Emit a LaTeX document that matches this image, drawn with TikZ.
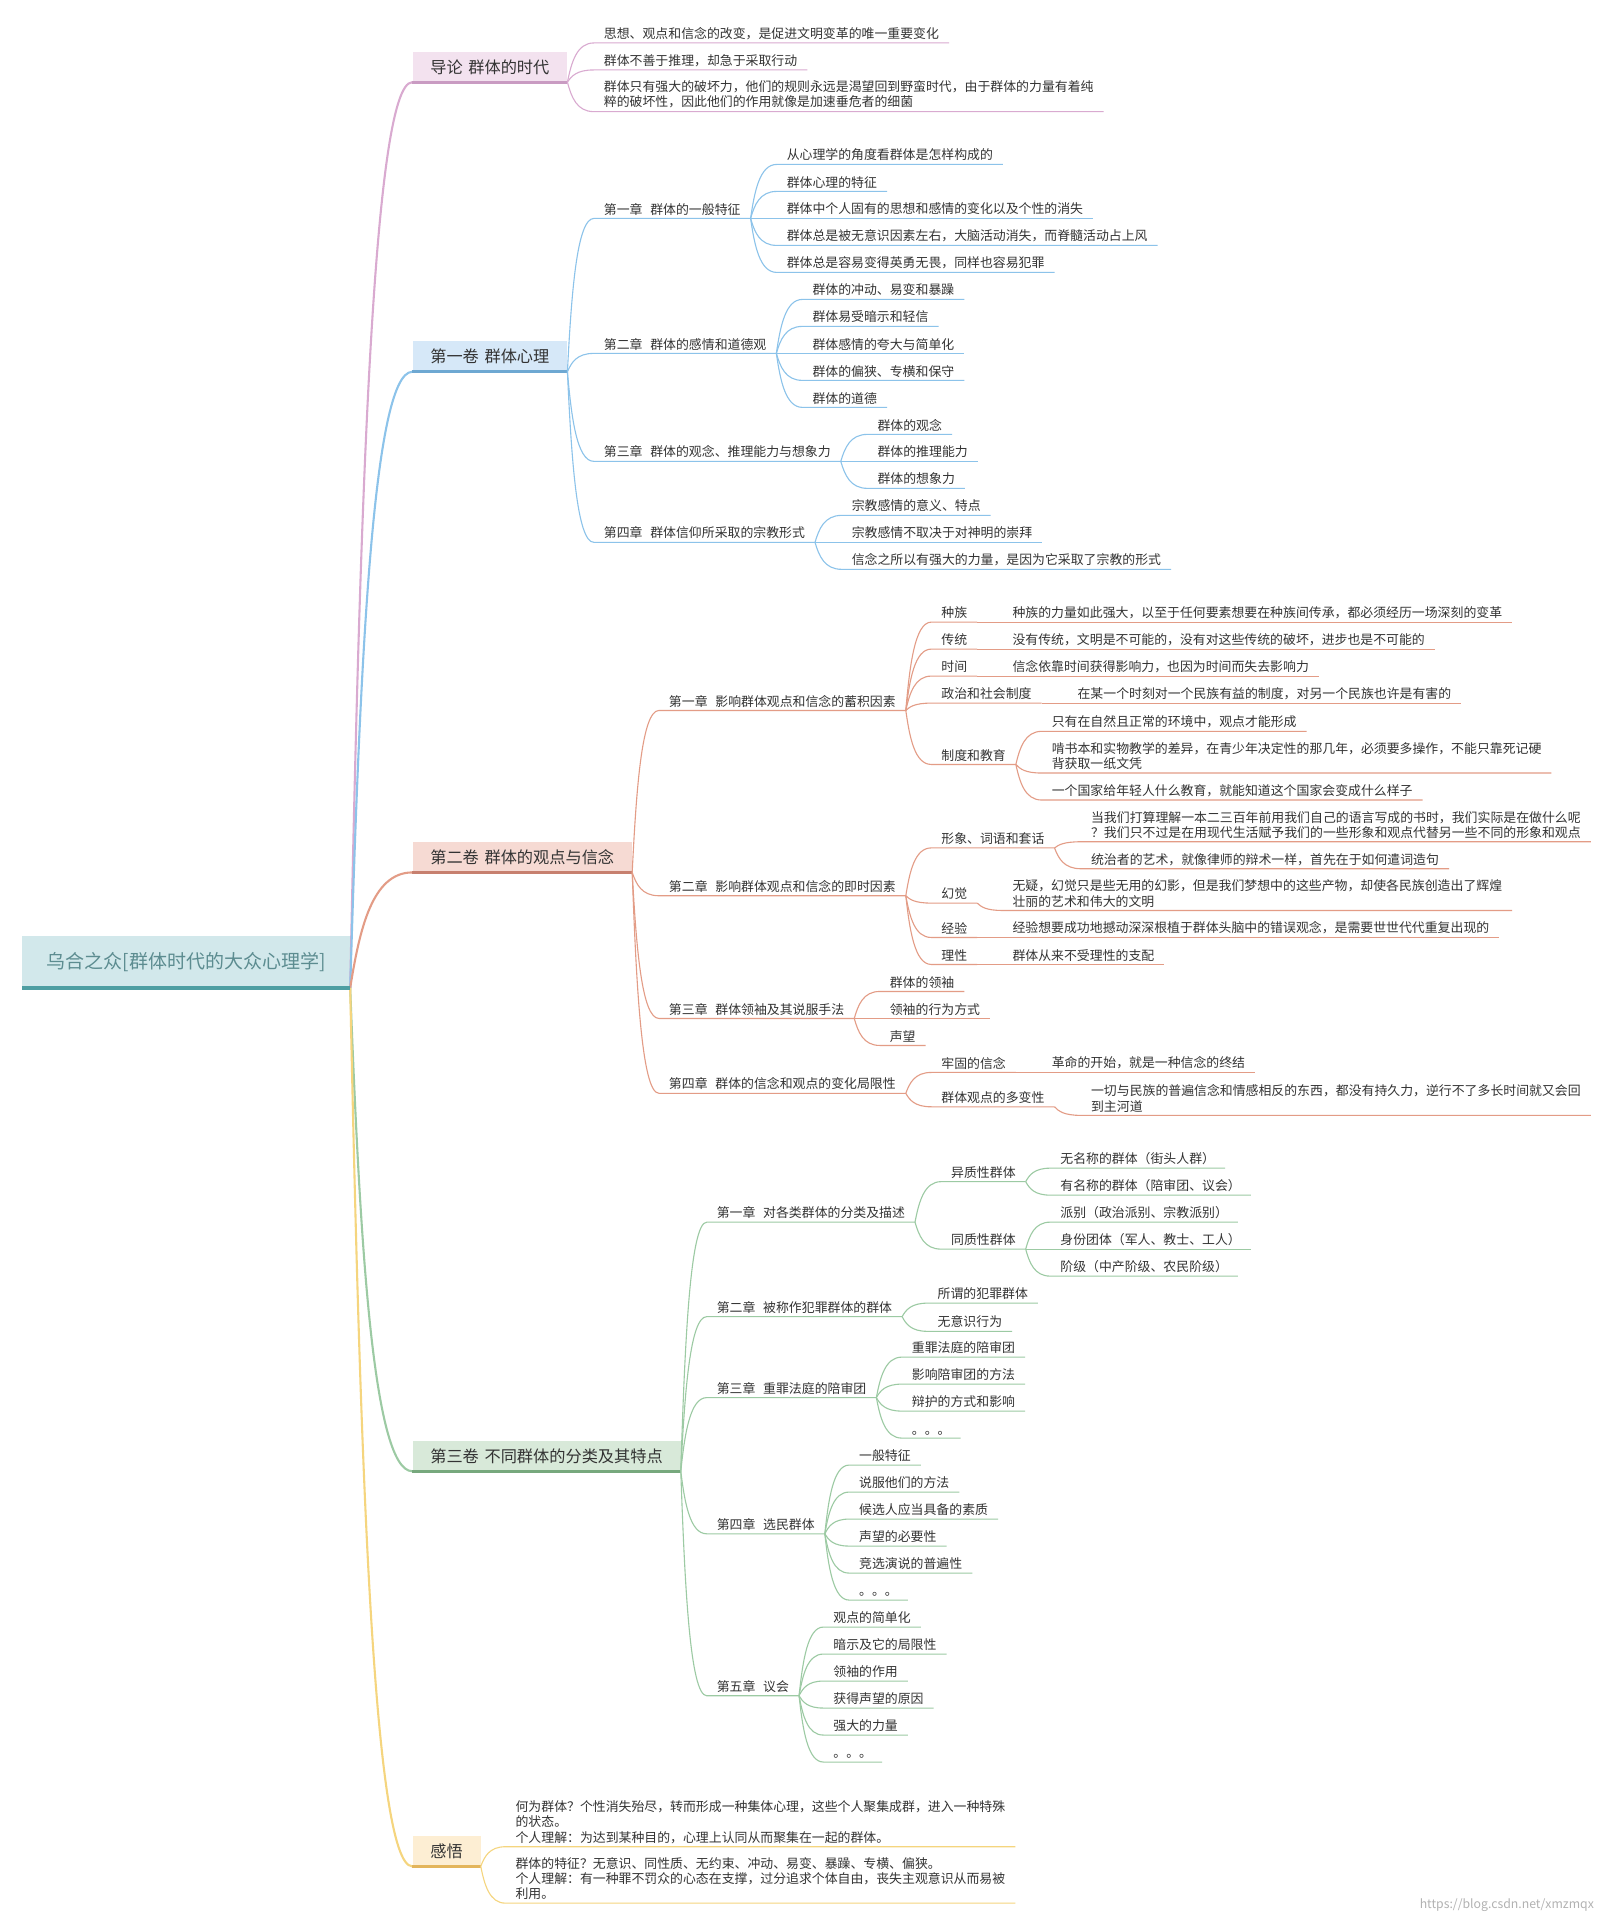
\documentclass[tikz,border=0pt]{standalone}
\usepackage{fontspec}
\usetikzlibrary{calc}

\newfontfamily\cjk{Noto Sans CJK SC}
\newcommand{\leaffont}{\cjk\fontsize{10.5}{12.3}\selectfont}
\newcommand{\volfont}{\cjk\fontsize{13.2}{15}\selectfont}
\newcommand{\rootfont}{\cjk\fontsize{15.5}{18}\selectfont}
\newcommand{\gap}{\hspace{0.6em}}
\newcommand{\vgap}{\hspace{0.35em}}

\definecolor{textgray}{HTML}{333333}
\definecolor{rootfill}{HTML}{D2E8EB}
\definecolor{rootbar}{HTML}{4E9EA2}
\definecolor{roottext}{HTML}{5C8C90}
\definecolor{pinkline}{HTML}{D9AAD0}
\definecolor{pinkfill}{HTML}{F3E2EF}
\definecolor{pinkbar}{HTML}{C99BC2}
\definecolor{blueline}{HTML}{8CC3EA}
\definecolor{bluefill}{HTML}{D6E8F8}
\definecolor{bluebar}{HTML}{6EA8D2}
\definecolor{redline}{HTML}{E39C86}
\definecolor{redfill}{HTML}{F6DAD3}
\definecolor{redbar}{HTML}{C7806F}
\definecolor{greenline}{HTML}{9CCAA3}
\definecolor{greenfill}{HTML}{D8E9D9}
\definecolor{greenbar}{HTML}{77A87D}
\definecolor{yellowline}{HTML}{F5D57E}
\definecolor{yellowfill}{HTML}{FDEED3}
\definecolor{yellowbar}{HTML}{E3B55B}

\tikzset{
    curvy/.style={to path={let \p1=(\tikztostart), \p2=(\tikztotarget) in
        .. controls ({0.85*\x1+0.15*\x2},{0.5*\y1+0.5*\y2})
        and ({0.65*\x1+0.35*\x2},\y2) .. (\tikztotarget) \tikztonodes}},
    topic/.style={anchor=south west, inner xsep=8pt, inner ysep=2.5pt,
        font=\leaffont, text=textgray, align=left},
    volume/.style={anchor=south west, minimum height=24.5pt, inner xsep=14.5pt,
        inner ysep=0pt, font=\volfont, text=textgray},
    twig/.style={line width=0.9pt},
    limb/.style={line width=1.7pt},
}

\begin{document}
\begin{tikzpicture}[x=1pt, y=-1pt]
    \useasboundingbox[fill=white] (0,0) rectangle (1317,1568);

    \node[anchor=south west, minimum width=267pt, minimum height=42pt, inner sep=0pt,
        fill=rootfill, font=\rootfont, text=roottext] (root) at (18,805)
        {乌合之众[群体时代的大众心理学]};

    % volume boxes
    \node[volume, fill=pinkfill] (intro) at (336,67) {导论\vgap{}群体的时代};
    \node[volume, fill=bluefill] (vol1) at (336,303) {第一卷\vgap{}群体心理};
    \node[volume, fill=redfill] (vol2) at (336,711) {第二卷\vgap{}群体的观点与信念};
    \node[volume, fill=greenfill] (vol3) at (336,1199) {第三卷\vgap{}不同群体的分类及其特点};
    \node[volume, fill=yellowfill] (notes) at (336,1521) {感悟};

    \foreach \v/\c in {intro/pinkline, vol1/blueline, vol2/redline, vol3/greenline, notes/yellowline}
        \draw[limb, \c] (root.south east) to[curvy] (\v.south west);

    \draw[rootbar, line width=3pt] (root.south west) -- (root.south east);
    \foreach \v/\c in {intro/pinkbar, vol1/bluebar, vol2/redbar, vol3/greenbar, notes/yellowbar}
        \draw[\c, line width=2.4pt] (\v.south west) -- (\v.south east);

    % introduction
    \node[topic] (in1) at (484,35) {思想、观点和信念的改变，是促进文明变革的唯一重要变化};
    \node[topic] (in2) at (484,57) {群体不善于推理，却急于采取行动};
    \node[topic] (in3) at (484,91) {群体只有强大的破坏力，他们的规则永远是渴望回到野蛮时代，由于群体的力量有着纯\\粹的破坏性，因此他们的作用就像是加速垂危者的细菌};
    \foreach \k in {in1,in2,in3}
        \draw[twig, pinkline] (intro.south east) to[curvy] (\k.south west) -- (\k.south east);

    % volume 1
    \node[topic] (v1c1) at (484,178) {第一章\gap{}群体的一般特征};
    \node[topic] (v1c2) at (484,288) {第二章\gap{}群体的感情和道德观};
    \node[topic] (v1c3) at (484,376) {第三章\gap{}群体的观念、推理能力与想象力};
    \node[topic] (v1c4) at (484,442) {第四章\gap{}群体信仰所采取的宗教形式};

    \node[topic] (v1c1a) at (633,134) {从心理学的角度看群体是怎样构成的};
    \node[topic] (v1c1b) at (633,156) {群体心理的特征};
    \node[topic] (v1c1c) at (633,178) {群体中个人固有的思想和感情的变化以及个性的消失};
    \node[topic] (v1c1d) at (633,200) {群体总是被无意识因素左右，大脑活动消失，而脊髓活动占上风};
    \node[topic] (v1c1e) at (633,222) {群体总是容易变得英勇无畏，同样也容易犯罪};

    \node[topic] (v1c2a) at (654,244) {群体的冲动、易变和暴躁};
    \node[topic] (v1c2b) at (654,266) {群体易受暗示和轻信};
    \node[topic] (v1c2c) at (654,288) {群体感情的夸大与简单化};
    \node[topic] (v1c2d) at (654,310) {群体的偏狭、专横和保守};
    \node[topic] (v1c2e) at (654,332) {群体的道德};

    \node[topic] (v1c3a) at (707,354) {群体的观念};
    \node[topic] (v1c3b) at (707,376) {群体的推理能力};
    \node[topic] (v1c3c) at (707,398) {群体的想象力};

    \node[topic] (v1c4a) at (686,420) {宗教感情的意义、特点};
    \node[topic] (v1c4b) at (686,442) {宗教感情不取决于对神明的崇拜};
    \node[topic] (v1c4c) at (686,464) {信念之所以有强大的力量，是因为它采取了宗教的形式};

    \foreach \k in {v1c1,v1c2,v1c3,v1c4}
        \draw[twig, blueline] (vol1.south east) to[curvy] (\k.south west) -- (\k.south east);
    \foreach \c/\last in {v1c1/e, v1c2/e, v1c3/c, v1c4/c}
        \foreach \k in {a,...,\last}
            \draw[twig, blueline] (\c.south east) to[curvy] (\c\k.south west) -- (\c\k.south east);

    % volume 2
    \node[topic] (v2c1) at (537,579) {第一章\gap{}影响群体观点和信念的蓄积因素};
    \node[topic] (v2c2) at (537,730) {第二章\gap{}影响群体观点和信念的即时因素};
    \node[topic] (v2c3) at (537,830) {第三章\gap{}群体领袖及其说服手法};
    \node[topic] (v2c4) at (537,891) {第四章\gap{}群体的信念和观点的变化局限性};

    \node[topic] (v2c1a) at (759,507) {种族};
    \node[topic] (v2c1b) at (759,529) {传统};
    \node[topic] (v2c1c) at (759,551) {时间};
    \node[topic] (v2c1d) at (759,573) {政治和社会制度};
    \node[topic] (v2c1e) at (759,623) {制度和教育};
    \node[topic] (v2c1a1) at (817,507) {种族的力量如此强大，以至于任何要素想要在种族间传承，都必须经历一场深刻的变革};
    \node[topic] (v2c1b1) at (817,529) {没有传统，文明是不可能的，没有对这些传统的破坏，进步也是不可能的};
    \node[topic] (v2c1c1) at (817,551) {信念依靠时间获得影响力，也因为时间而失去影响力};
    \node[topic] (v2c1d1) at (870,573) {在某一个时刻对一个民族有益的制度，对另一个民族也许是有害的};
    \node[topic] (v2c1e1) at (849,596) {只有在自然且正常的环境中，观点才能形成};
    \node[topic] (v2c1e2) at (849,630) {啃书本和实物教学的差异，在青少年决定性的那几年，必须要多操作，不能只靠死记硬\\背获取一纸文凭};
    \node[topic] (v2c1e3) at (849,652) {一个国家给年轻人什么教育，就能知道这个国家会变成什么样子};

    \node[topic] (v2c2a) at (759,691) {形象、词语和套话};
    \node[topic] (v2c2b) at (759,736) {幻觉};
    \node[topic] (v2c2c) at (759,764) {经验};
    \node[topic] (v2c2d) at (759,786) {理性};
    \node[topic] (v2c2a1) at (881,686) {当我们打算理解一本二三百年前用我们自己的语言写成的书时，我们实际是在做什么呢\\？我们只不过是在用现代生活赋予我们的一些形象和观点代替另一些不同的形象和观点};
    \node[topic] (v2c2a2) at (881,708) {统治者的艺术，就像律师的辩术一样，首先在于如何遣词造句};
    \node[topic] (v2c2b1) at (817,742) {无疑，幻觉只是些无用的幻影，但是我们梦想中的这些产物，却使各民族创造出了辉煌\\壮丽的艺术和伟大的文明};
    \node[topic] (v2c2c1) at (817,764) {经验想要成功地撼动深深根植于群体头脑中的错误观念，是需要世世代代重复出现的};
    \node[topic] (v2c2d1) at (817,786) {群体从来不受理性的支配};

    \node[topic] (v2c3a) at (717,808) {群体的领袖};
    \node[topic] (v2c3b) at (717,830) {领袖的行为方式};
    \node[topic] (v2c3c) at (717,852) {声望};

    \node[topic] (v2c4a) at (759,874) {牢固的信念};
    \node[topic] (v2c4b) at (759,902) {群体观点的多变性};
    \node[topic] (v2c4a1) at (849,874) {革命的开始，就是一种信念的终结};
    \node[topic] (v2c4b1) at (881,909) {一切与民族的普遍信念和情感相反的东西，都没有持久力，逆行不了多长时间就又会回\\到主河道};

    \foreach \k in {v2c1,v2c2,v2c3,v2c4}
        \draw[twig, redline] (vol2.south east) to[curvy] (\k.south west) -- (\k.south east);
    \foreach \c/\last in {v2c1/e, v2c2/d, v2c3/c, v2c4/b}
        \foreach \k in {a,...,\last}
            \draw[twig, redline] (\c.south east) to[curvy] (\c\k.south west) -- (\c\k.south east);
    \foreach \k in {v2c1a,v2c1b,v2c1c,v2c1d,v2c2b,v2c2c,v2c2d,v2c4a,v2c4b}
        \draw[twig, redline] (\k.south east) to[curvy] (\k1.south west) -- (\k1.south east);
    \foreach \q/\k in {v2c1e/v2c1e1, v2c1e/v2c1e2, v2c1e/v2c1e3, v2c2a/v2c2a1, v2c2a/v2c2a2}
        \draw[twig, redline] (\q.south east) to[curvy] (\k.south west) -- (\k.south east);

    % volume 3
    \node[topic] (v3c1) at (576,996) {第一章\gap{}对各类群体的分类及描述};
    \node[topic] (v3c2) at (576,1073) {第二章\gap{}被称作犯罪群体的群体};
    \node[topic] (v3c3) at (576,1139) {第三章\gap{}重罪法庭的陪审团};
    \node[topic] (v3c4) at (576,1250) {第四章\gap{}选民群体};
    \node[topic] (v3c5) at (576,1382) {第五章\gap{}议会};

    \node[topic] (v3c1a) at (767,963) {异质性群体};
    \node[topic] (v3c1b) at (767,1018) {同质性群体};
    \node[topic] (v3c1a1) at (856,952) {无名称的群体（街头人群）};
    \node[topic] (v3c1a2) at (856,974) {有名称的群体（陪审团、议会）};
    \node[topic] (v3c1b1) at (856,996) {派别（政治派别、宗教派别）};
    \node[topic] (v3c1b2) at (856,1018) {身份团体（军人、教士、工人）};
    \node[topic] (v3c1b3) at (856,1040) {阶级（中产阶级、农民阶级）};

    \node[topic] (v3c2a) at (756,1062) {所谓的犯罪群体};
    \node[topic] (v3c2b) at (756,1085) {无意识行为};

    \node[topic] (v3c3a) at (735,1106) {重罪法庭的陪审团};
    \node[topic] (v3c3b) at (735,1128) {影响陪审团的方法};
    \node[topic] (v3c3c) at (735,1150) {辩护的方式和影响};
    \node[topic] (v3c3d) at (735,1172) {。。。};

    \node[topic] (v3c4a) at (692,1194) {一般特征};
    \node[topic] (v3c4b) at (692,1216) {说服他们的方法};
    \node[topic] (v3c4c) at (692,1238) {候选人应当具备的素质};
    \node[topic] (v3c4d) at (692,1260) {声望的必要性};
    \node[topic] (v3c4e) at (692,1282) {竞选演说的普遍性};
    \node[topic] (v3c4f) at (692,1304) {。。。};

    \node[topic] (v3c5a) at (671,1326) {观点的简单化};
    \node[topic] (v3c5b) at (671,1348) {暗示及它的局限性};
    \node[topic] (v3c5c) at (671,1370) {领袖的作用};
    \node[topic] (v3c5d) at (671,1392) {获得声望的原因};
    \node[topic] (v3c5e) at (671,1414) {强大的力量};
    \node[topic] (v3c5f) at (671,1436) {。。。};

    \foreach \k in {v3c1,v3c2,v3c3,v3c4,v3c5}
        \draw[twig, greenline] (vol3.south east) to[curvy] (\k.south west) -- (\k.south east);
    \foreach \c/\last in {v3c1/b, v3c2/b, v3c3/d, v3c4/f, v3c5/f}
        \foreach \k in {a,...,\last}
            \draw[twig, greenline] (\c.south east) to[curvy] (\c\k.south west) -- (\c\k.south east);
    \foreach \c/\last in {v3c1a/2, v3c1b/3}
        \foreach \i in {1,...,\last}
            \draw[twig, greenline] (\c.south east) to[curvy] (\c\i.south west) -- (\c\i.south east);

    % notes
    \node[topic] (no1) at (412,1505) {何为群体？个性消失殆尽，转而形成一种集体心理，这些个人聚集成群，进入一种特殊\\的状态。\\个人理解：为达到某种目的，心理上认同从而聚集在一起的群体。};
    \node[topic] (no2) at (412,1551) {群体的特征？无意识、同性质、无约束、冲动、易变、暴躁、专横、偏狭。\\个人理解：有一种罪不罚众的心态在支撑，过分追求个体自由，丧失主观意识从而易被\\利用。};
    \foreach \k in {no1,no2}
        \draw[twig, yellowline] (notes.south east) to[curvy] (\k.south west) -- (\k.south east);

    \node[font=\cjk\fontsize{10}{12}\selectfont, text=black!30] (mark) at (1228,1553) {https://blog.csdn.net/xmzmqx};
\end{tikzpicture}
\end{document}
